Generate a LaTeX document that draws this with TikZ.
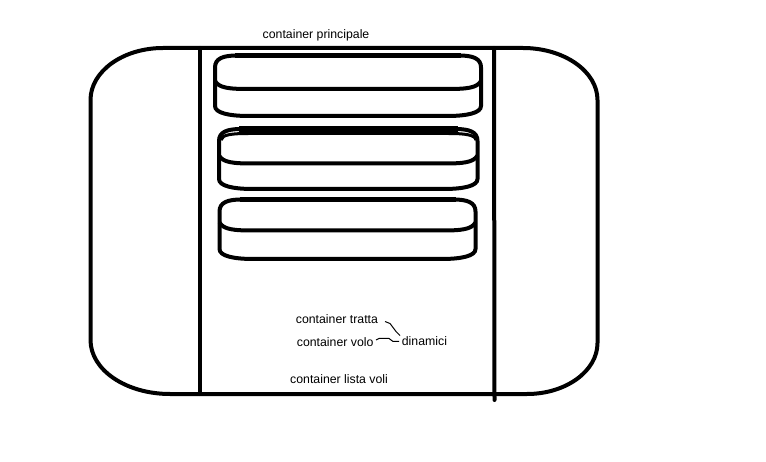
\documentclass[tikz,border=0pt]{standalone}
\usepackage{fontspec}
\setmainfont{Liberation Sans}
\newcommand\drawcyl[5]{%
  % #1 left, #2 right, #3 top, #4 middle, #5 bottom
  \draw[heavy] ({#1},{#4}) -- ({#1},{#3+12})
    .. controls ({#1},{#3+3}) and ({#1+8},{#3}) .. ({#1+22},{#3})
    -- ({#2-22},{#3})
    .. controls ({#2-8},{#3}) and ({#2},{#3+3}) .. ({#2},{#3+12})
    -- ({#2},{#5-10})
    .. controls ({#2},{#5-3}) and ({#2-14},{#5}) .. ({#2-34},{#5})
    -- ({#1+34},{#5})
    .. controls ({#1+14},{#5}) and ({#1},{#5-3}) .. ({#1},{#5-10})
    -- cycle;
  \draw[topline] ({#1+20},{#3}) -- ({#2-20},{#3});
  \draw[heavy] ({#1},{#4-8})
    .. controls ({#1+4},{#4-1}) and ({#1+14},{#4}) .. ({#1+34},{#4})
    -- ({#2-34},{#4})
    .. controls ({#2-14},{#4}) and ({#2-4},{#4-1}) .. ({#2},{#4-8});
}
\begin{document}
\begin{tikzpicture}[x=1pt,y=-1pt,
  heavy/.style={draw=black,line width=4pt,line join=round},
  topline/.style={draw=black,line width=5.5pt},
  divider/.style={draw=black,line width=4pt,line cap=round},
  conn/.style={draw=black,line width=1pt},
  lbl/.style={inner sep=0pt,anchor=base west,font=\fontsize{12.3}{14}\selectfont}]
\useasboundingbox[fill=white] (0,0) rectangle (766,462);
% outer container
\draw[heavy] (163,48) -- (523,48)
  .. controls (564,48) and (597.5,71.3) .. (597.5,100)
  -- (597.5,343)
  .. controls (597.5,371) and (566,394) .. (527,394)
  -- (170,394)
  .. controls (126,394) and (90.5,370) .. (90.5,340)
  -- (90.5,100)
  .. controls (90.5,71.3) and (123,48) .. (163,48) -- cycle;
% dividers
\draw[divider] (200,48) -- (200,394);
\draw[divider] (494,48) -- (494.5,400);
% cylinders
\drawcyl{215}{481}{55.5}{89}{116}
\drawcyl{219}{477.5}{129}{163.5}{189}
\draw[draw=black,line width=3pt] (221,140) .. controls (222,134.5) and (232,133.5) .. (249,133.5)
  -- (448,133.5) .. controls (464,133.5) and (475,134.5) .. (476,140);
\drawcyl{219.5}{475.5}{199.5}{230.5}{259}
% labels
\node[lbl] (principale) at (262.5,39) {container principale};
\node[lbl] (tratta) at (295.7,324) {container tratta};
\node[lbl] (volo) at (296.7,347) {container volo};
\node[lbl] (dinamici) at (401.7,345.7) {dinamici};
\node[lbl] (lista) at (290,383) {container lista voli};
% connectors
\coordinate (a0) at (385,321.5);
\coordinate (a1) at (390,323.5);
\coordinate (a2) at (396,331.5);
\coordinate (a3) at (400,335.5);
\coordinate (b0) at (376,340);
\coordinate (b1) at (379,338.5);
\coordinate (b2) at (389,338.5);
\coordinate (b3) at (393,341.5);
\coordinate (b4) at (399,341.5);
\draw[conn] (a0) -- (a1) -- (a2) -- (a3);
\draw[conn] (b0) -- (b1) -- (b2) -- (b3) -- (b4);
\end{tikzpicture}
\end{document}
